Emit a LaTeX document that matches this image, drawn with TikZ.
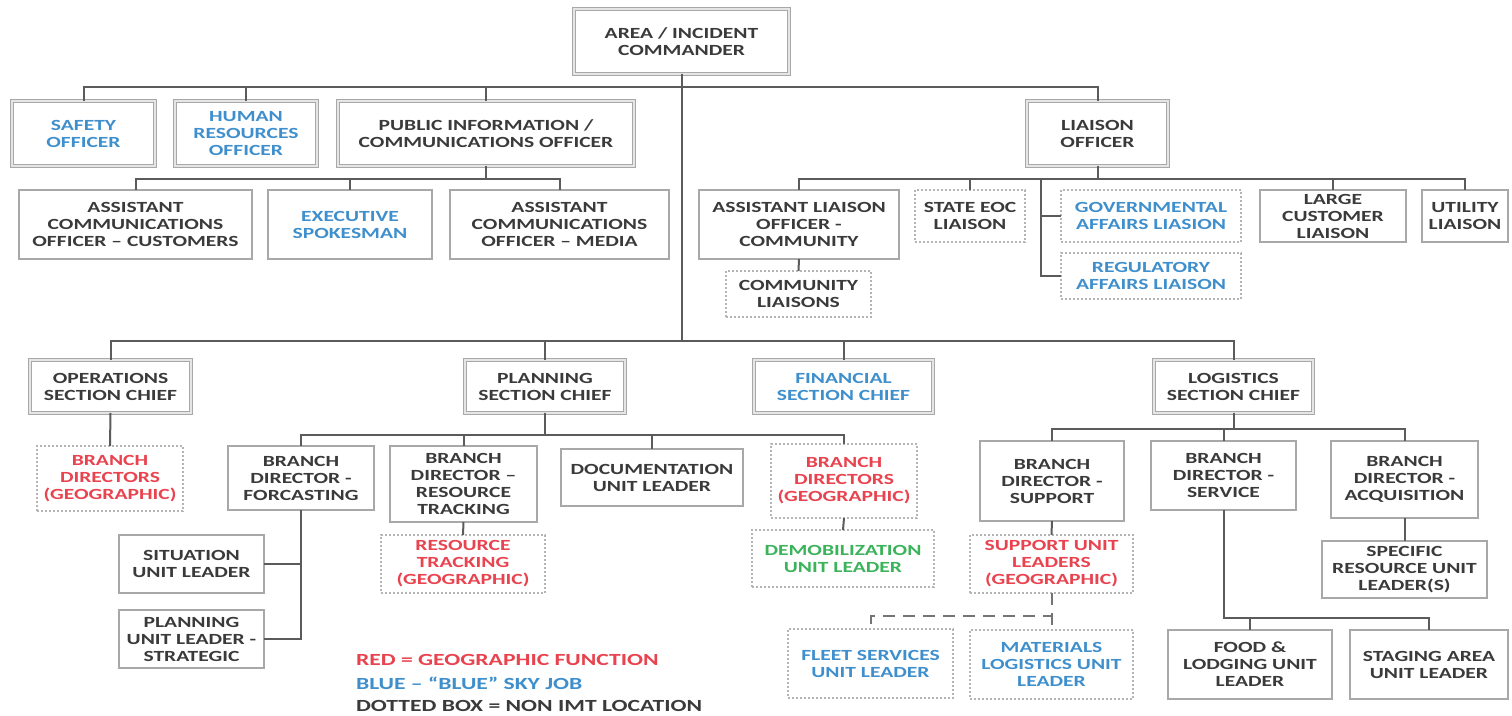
\documentclass[tikz,border=0pt]{standalone}
\usepackage{fontspec}
\newfontfamily\chartfont{Carlito}[FakeStretch=1.39]
\usetikzlibrary{calc}
\definecolor{txt}{HTML}{3A3A3A}
\definecolor{blu}{HTML}{3F8FCC}
\definecolor{rd}{HTML}{E8434F}
\definecolor{grn}{HTML}{3BB35A}
\definecolor{bord}{HTML}{A8A8A8}
\definecolor{dotc}{HTML}{B4B4B4}
\definecolor{ln}{HTML}{5B5B5B}
\tikzset{
  base/.style={inner sep=0pt, outer sep=0pt, align=center, text=txt,
    font=\chartfont\bfseries\fontsize{7.75pt}{8.5pt}\selectfont},
  sbox/.style={base, draw=bord, line width=0.9pt},
  dbl/.style={base, draw=bord, line width=0.8pt, double=bord!30, double distance=0.8pt},
  dbox/.style={base, draw=dotc, line width=0.6pt, dash pattern=on 1pt off 1pt},
  bluetxt/.style={text=blu},
  redtxt/.style={text=rd},
  greentxt/.style={text=grn},
  conn/.style={draw=ln, line width=1pt},
  dconn/.style={draw=ln!85, line width=1pt, dash pattern=on 6pt off 4pt},
  legend/.style={base, anchor=west, align=left,
    font=\chartfont\bfseries\fontsize{8.5pt}{9pt}\selectfont}
}
\newcommand\bx[7]{%
  \pgfmathsetmacro\bxcx{(#2+#4)/2}%
  \pgfmathsetmacro\bxcy{(#3+#5)/2}%
  \pgfmathsetmacro\bxw{(#4-#2)/2}%
  \pgfmathsetmacro\bxh{(#5-#3)/2}%
  \node[#6, minimum width=\bxw pt, minimum height=\bxh pt] (#1) at (\bxcx,\bxcy) {#7};}
\begin{document}
\begin{tikzpicture}[x=0.5pt,y=-0.5pt]
\useasboundingbox (0,0) rectangle (1512,716);
% double-framed boxes
\bx{cmd}{574}{9}{789}{74}{dbl}{AREA / INCIDENT\\COMMANDER}
\bx{safety}{12}{101}{155}{166}{dbl,bluetxt}{SAFETY\\OFFICER}
\bx{hr}{175}{101}{317}{166}{dbl,bluetxt}{HUMAN\\RESOURCES\\OFFICER}
\bx{pio}{338}{101}{634}{166}{dbl}{PUBLIC INFORMATION /\\COMMUNICATIONS OFFICER}
\bx{liaison}{1027}{101}{1168}{166}{dbl}{LIAISON\\OFFICER}
\bx{ops}{30}{360}{191}{413}{dbl}{OPERATIONS\\SECTION CHIEF}
\bx{plan}{465}{360}{625}{413}{dbl}{PLANNING\\SECTION CHIEF}
\bx{fin}{754}{360}{933}{413}{dbl,bluetxt}{FINANCIAL\\SECTION CHIEF}
\bx{log}{1154}{360}{1313}{413}{dbl}{LOGISTICS\\SECTION CHIEF}
% single boxes
\bx{acc}{19}{190}{252}{259}{sbox}{ASSISTANT\\COMMUNICATIONS\\OFFICER – CUSTOMERS}
\bx{exec}{268}{190}{432}{259}{sbox,bluetxt}{EXECUTIVE\\SPOKESMAN}
\bx{acm}{450}{190}{669}{259}{sbox}{ASSISTANT\\COMMUNICATIONS\\OFFICER – MEDIA}
\bx{alo}{699}{190}{899}{259}{sbox}{ASSISTANT LIAISON\\OFFICER -\\COMMUNITY}
\bx{large}{1260}{190}{1406}{242}{sbox}{LARGE\\CUSTOMER\\LIAISON}
\bx{util}{1422}{190}{1508}{242}{sbox}{UTILITY\\LIAISON}
\bx{fore}{228}{446}{374}{510}{sbox}{BRANCH\\DIRECTOR -\\FORCASTING}
\bx{rtbd}{390}{446}{537}{522}{sbox}{BRANCH\\DIRECTOR –\\RESOURCE\\TRACKING}
\bx{doc}{561}{449}{743}{506}{sbox}{DOCUMENTATION\\UNIT LEADER}
\bx{sit}{119}{535}{264}{593}{sbox}{SITUATION\\UNIT LEADER}
\bx{pul}{119}{610}{264}{668}{sbox}{PLANNING\\UNIT LEADER -\\STRATEGIC}
\bx{supbd}{980}{441}{1124}{521}{sbox}{BRANCH\\DIRECTOR -\\SUPPORT}
\bx{serv}{1151}{441}{1296}{510}{sbox}{BRANCH\\DIRECTOR -\\SERVICE}
\bx{acq}{1331}{441}{1478}{518}{sbox}{BRANCH\\DIRECTOR -\\ACQUISITION}
\bx{spec}{1322}{541}{1487}{598}{sbox}{SPECIFIC\\RESOURCE UNIT\\LEADER(S)}
\bx{food}{1168}{630}{1332}{699}{sbox}{FOOD \&\\LODGING UNIT\\LEADER}
\bx{stag}{1350}{630}{1508}{699}{sbox}{STAGING AREA\\UNIT LEADER}
% dotted boxes
\bx{coml}{726}{271}{871}{317}{dbox}{COMMUNITY\\LIAISONS}
\bx{seoc}{915}{190}{1025}{242}{dbox}{STATE EOC\\LIAISON}
\bx{gov}{1061}{190}{1241}{242}{dbox,bluetxt}{GOVERNMENTAL\\AFFAIRS LIASION}
\bx{reg}{1061}{253}{1241}{299}{dbox,bluetxt}{REGULATORY\\AFFAIRS LIAISON}
\bx{bdo}{37}{446}{183}{511}{dbox,redtxt}{BRANCH\\DIRECTORS\\(GEOGRAPHIC)}
\bx{rtg}{381}{535}{545}{593}{dbox,redtxt}{RESOURCE\\TRACKING\\(GEOGRAPHIC)}
\bx{bdg}{771}{444}{917}{518}{dbox,redtxt}{BRANCH\\DIRECTORS\\(GEOGRAPHIC)}
\bx{demob}{752}{530}{934}{587}{dbox,greentxt}{DEMOBILIZATION\\UNIT LEADER}
\bx{sul}{970}{535}{1133}{593}{dbox,redtxt}{SUPPORT UNIT\\LEADERS\\(GEOGRAPHIC)}
\bx{fleet}{788}{629}{953}{698}{dbox,bluetxt}{FLEET SERVICES\\UNIT LEADER}
\bx{mat}{970}{630}{1133}{699}{dbox,bluetxt}{MATERIALS\\LOGISTICS UNIT\\LEADER}
% legend
\node[legend, text=rd] (leg1) at (356,660) {RED = GEOGRAPHIC FUNCTION};
\node[legend, text=blu] (leg2) at (356,683) {BLUE – “BLUE” SKY JOB};
\node[legend] (leg3) at (356,706) {DOTTED BOX = NON IMT LOCATION};
% bus levels
\coordinate (busA) at (0,87);
\coordinate (busP) at (0,179);
\coordinate (busS) at (0,341);
\coordinate (busPl) at (0,435);
\coordinate (busL) at (0,429);
\coordinate (busF) at (0,618);
\coordinate (busD) at (0,616);
% connectors
\draw[conn] (cmd.south) -- (cmd.south |- busS);
\foreach \c in {safety,hr,pio,liaison}
  \draw[conn] (cmd.south) -- (cmd.south |- busA) -| (\c.north);
\foreach \c in {ops,plan,fin,log}
  \draw[conn] (cmd.south |- busS) -| (\c.north);
\foreach \c in {acc,exec,acm}
  \draw[conn] (pio.south) -- (pio.south |- busP) -| (\c.north);
\foreach \c in {alo,seoc,large,util}
  \draw[conn] (liaison.south) -- (liaison.south |- busP) -| (\c.north);
\draw[conn] (liaison.south |- busP) -| ([xshift=-10pt]reg.west) -- (reg.west);
\draw[conn] ([xshift=-10pt]gov.west) -- (gov.west);
\draw[conn] (alo.south) -- (coml.north);
\draw[conn] (ops.south) -- (bdo.north);
\foreach \c in {fore,rtbd,doc,bdg}
  \draw[conn] (plan.south) -- (plan.south |- busPl) -| (\c.north);
\draw[conn] (fore.south) |- (sit.east);
\draw[conn] (fore.south) |- (pul.east);
\draw[conn] (rtbd.south) -- (rtg.north);
\draw[conn] (bdg.south) -- (demob.north);
\foreach \c in {supbd,serv,acq}
  \draw[conn] (log.south) -- (log.south |- busL) -| (\c.north);
\draw[conn] (acq.south) -- (spec.north);
\draw[conn] (supbd.south) -- (sul.north);
\foreach \c in {food,stag}
  \draw[conn] (serv.south) -- (serv.south |- busF) -| (\c.north);
\draw[dconn] (sul.south) -- (sul.south |- busD) -| (fleet.north);
\draw[dconn] (sul.south) -- (mat.north);
\end{tikzpicture}
\end{document}
